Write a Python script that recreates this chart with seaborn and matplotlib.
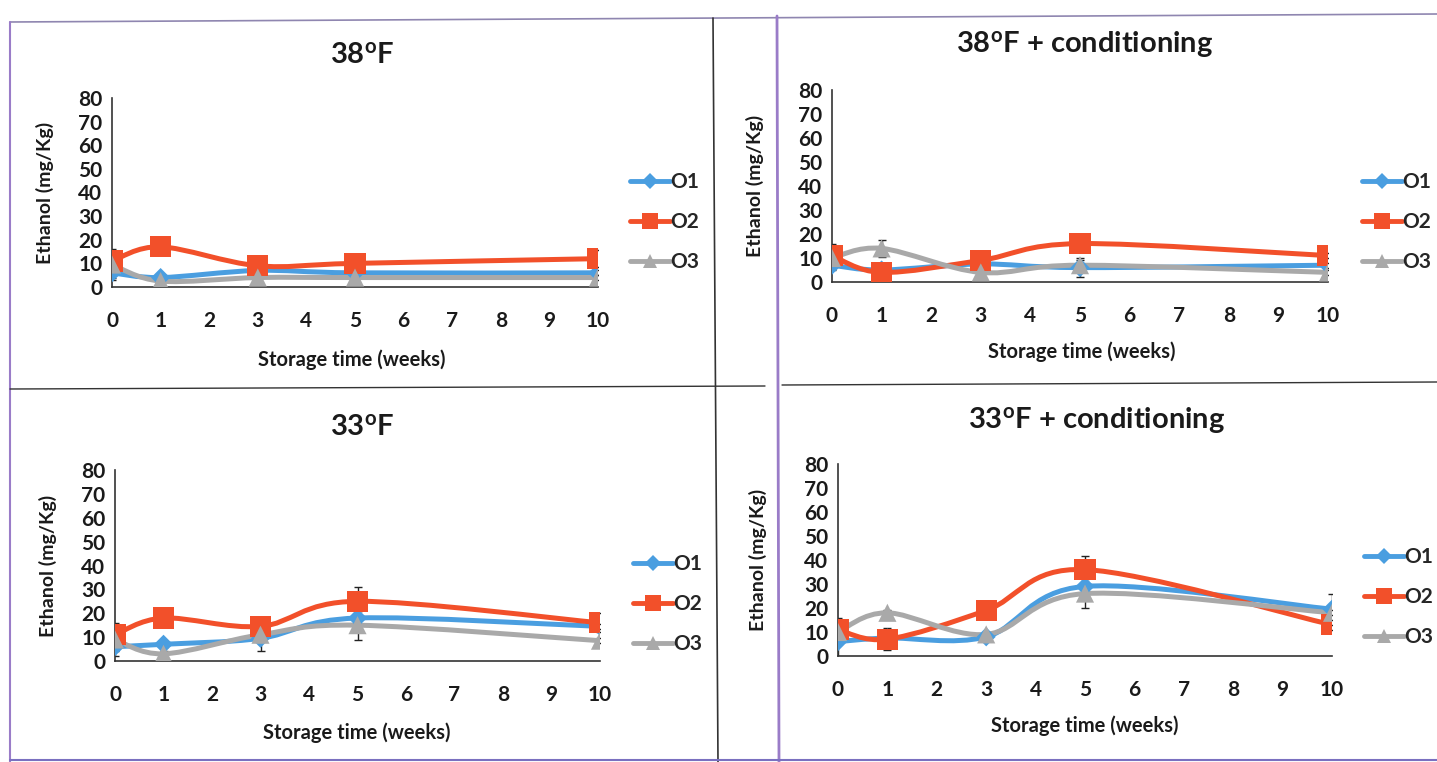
import numpy as np
import pandas as pd
import matplotlib
matplotlib.use("Agg")
import matplotlib.pyplot as plt
import seaborn as sns
from matplotlib.path import Path
from matplotlib.patches import PathPatch
from matplotlib.lines import Line2D

# ---------------- data ----------------
weeks = [0, 1, 3, 5, 10]
x_ticks = [0, 1, 2, 3, 4, 5, 6, 7, 8, 9, 10]
y_ticks = [0, 10, 20, 30, 40, 50, 60, 70, 80]
series_names = ["O1", "O2", "O3"]
panel_titles = ["38$^{\\mathrm{o}}$F", "38$^{\\mathrm{o}}$F + conditioning",
                "33$^{\\mathrm{o}}$F", "33$^{\\mathrm{o}}$F + conditioning"]

# 38F
p1_o1 = [6, 4, 7, 6, 6]
p1_o2 = [11, 17, 9, 10, 12]
p1_o3 = [9.5, 2.5, 4, 4, 4]
p1_o1_err = [2, 1, 1, 1, 1]
p1_o2_err = [3, 3, 1, 1, 3.5]
p1_o3_err = [6.5, 1, 1, 1, 1]

# 38F + conditioning
p2_o1 = [7, 5, 7.5, 6, 7]
p2_o2 = [11, 4, 9, 16, 11]
p2_o3 = [10, 14, 4, 7, 4]
p2_o1_err = [2, 1, 1, 4, 1]
p2_o2_err = [5, 1, 1, 3, 1]
p2_o3_err = [2, 3.5, 1, 2, 1]

# 33F
p3_o1 = [6, 7, 9.5, 18, 14.5]
p3_o2 = [11, 18, 14.5, 25, 16]
p3_o3 = [9, 3, 11, 15, 8.5]
p3_o1_err = [2, 1, 5.5, 3, 1]
p3_o2_err = [2, 1, 2.5, 6, 4]
p3_o3_err = [7, 1, 1, 6, 1]

# 33F + conditioning
p4_o1 = [6, 7.5, 8, 29, 19.5]
p4_o2 = [11, 7, 19, 36, 13]
p4_o3 = [10, 18, 9, 26, 18]
p4_o1_err = [10, 1, 1, 2, 6.5]
p4_o2_err = [2, 4.5, 1, 5.5, 2]
p4_o3_err = [2, 1, 1, 6, 1]

panels = [
    ([p1_o1, p1_o2, p1_o3], [p1_o1_err, p1_o2_err, p1_o3_err]),
    ([p2_o1, p2_o2, p2_o3], [p2_o1_err, p2_o2_err, p2_o3_err]),
    ([p3_o1, p3_o2, p3_o3], [p3_o1_err, p3_o2_err, p3_o3_err]),
    ([p4_o1, p4_o2, p4_o3], [p4_o1_err, p4_o2_err, p4_o3_err]),
]

# ---------------- style ----------------
colors = {"O1": "#4a9ee0", "O2": "#f2502a", "O3": "#a9a9a9"}
markers = {"O1": "D", "O2": "s", "O3": "^"}
msizes = {"O1": 95, "O2": 230, "O3": 170}
leg_ms = {"O1": 8, "O2": 12, "O3": 10}

sns.set_theme(style="white")
plt.rcParams["font.family"] = ["Lato", "DejaVu Sans"]
plt.rcParams["font.weight"] = "bold"
plt.rcParams["mathtext.fontset"] = "custom"
plt.rcParams["mathtext.rm"] = "Lato:bold"
plt.rcParams["mathtext.bf"] = "Lato:bold"
plt.rcParams["mathtext.it"] = "Lato:bold"

W, H = 1437, 762
fig = plt.figure(figsize=(W / 100, H / 100), dpi=100)
fig.patch.set_facecolor("white")

# axes rectangles in pixels: (left, right, y0 pixel, y80 pixel)
ax_px = [(112, 598, 287, 98), (832, 1328, 282, 90),
         (115, 600, 661, 470), (838, 1332, 656, 464)]
ylabel_px = [45, 755, 48, 758]
xlabel_py = [360, 352, 733, 726]
xlabel_px = [352, 1082, 357, 1085]
title_px = [(362, 55), (1085, 45), (362, 428), (1097, 420)]
legend_px = [(630, 222), (1362, 222), (633, 604), (1364, 597)]


def smooth_path(x, y):
    x = np.asarray(x, float)
    y = np.asarray(y, float)
    n = len(x)
    verts = [(x[0], y[0])]
    codes = [Path.MOVETO]
    for i in range(n - 1):
        a = i - 1 if i > 0 else i
        b = i + 2 if i + 2 < n else i + 1
        c1 = (x[i] + (x[i + 1] - x[a]) / 6, y[i] + (y[i + 1] - y[a]) / 6)
        c2 = (x[i + 1] - (x[b] - x[i]) / 6, y[i + 1] - (y[b] - y[i]) / 6)
        verts += [c1, c2, (x[i + 1], y[i + 1])]
        codes += [Path.CURVE4] * 3
    return Path(verts, codes)


for k, ((vals, errs), (l, r, y0, y80)) in enumerate(zip(panels, ax_px)):
    ax = fig.add_axes([l / W, 1 - y0 / H, (r - l) / W, (y0 - y80) / H])
    ax.set_facecolor("none")
    rows = []
    for name, v in zip(series_names, vals):
        for w, val in zip(weeks, v):
            rows.append({"week": w, "value": val, "series": name})
    df = pd.DataFrame(rows)

    for name, v, e in zip(series_names, vals, errs):
        ax.errorbar(weeks, v, yerr=e, fmt="none", ecolor="#222222",
                    elinewidth=1.0, capsize=3, capthick=1.0, zorder=2)
        patch = PathPatch(smooth_path(weeks, v), facecolor="none",
                          edgecolor=colors[name], lw=3.6, zorder=3,
                          capstyle="round", joinstyle="round")
        ax.add_patch(patch)

    sns.scatterplot(data=df, x="week", y="value", hue="series", style="series",
                    size="series", sizes=msizes, palette=colors, markers=markers,
                    linewidth=0, legend=False, ax=ax, zorder=4)

    ax.set_xlim(0, 10)
    ax.set_ylim(0, 80)
    ax.set_xticks(x_ticks)
    ax.set_yticks(y_ticks)
    ax.set_xticklabels([str(t) for t in x_ticks], fontsize=15, fontweight="bold")
    ax.set_yticklabels([str(t) for t in y_ticks], fontsize=15, fontweight="bold")
    ax.tick_params(axis="x", direction="in", length=5, width=1, pad=17,
                   colors="#222222", labelcolor="#1a1a1a")
    ax.tick_params(axis="y", length=0, pad=7, labelcolor="#1a1a1a")
    for s in ["top", "right"]:
        ax.spines[s].set_visible(False)
    for s in ["left", "bottom"]:
        ax.spines[s].set_color("#333333")
        ax.spines[s].set_linewidth(1.2)

    wpx = r - l
    hpx = y0 - y80
    ax.set_ylabel("Ethanol (mg/Kg)", fontsize=14, fontweight="bold", color="#1a1a1a")
    ax.yaxis.set_label_coords(-(l - ylabel_px[k]) / wpx, 0.5)
    ax.set_xlabel("Storage time (weeks)", fontsize=14.5, fontweight="bold", color="#1a1a1a")
    ax.xaxis.set_label_coords((xlabel_px[k] - l) / wpx, -(xlabel_py[k] - y0) / hpx)
    ax.xaxis.label.set_va("center")
    ax.yaxis.label.set_va("center")

    tx, ty = title_px[k]
    ax.text((tx - l) / wpx, 1 + (y80 - ty) / hpx, panel_titles[k],
            transform=ax.transAxes, ha="center", va="center",
            fontsize=21, fontweight="bold", color="#1a1a1a")

    handles = [Line2D([0], [0], color=colors[n], lw=3.5, marker=markers[n],
                      markersize=leg_ms[n], markeredgewidth=0) for n in series_names]
    lx, ly = legend_px[k]
    ax.legend(handles, series_names, loc="center left",
              bbox_to_anchor=((lx - l) / wpx, (y0 - ly) / hpx),
              frameon=False, handlelength=1.9, handletextpad=0.05,
              labelspacing=0.95, borderpad=0, borderaxespad=0,
              prop={"size": 15, "weight": "bold"})

# ---------------- panel frames (scanned page borders) ----------------
def fline(x0, y0_, x1, y1, color, lw=1.2):
    fig.add_artist(Line2D([x0 / W, x1 / W], [1 - y0_ / H, 1 - y1 / H],
                          color=color, lw=lw, transform=fig.transFigure))

purple = "#9a7cc8"
fline(10, 22, 1437, 14, "#8f86b0")
fline(10, 22, 10, 762, purple, 1.5)
fline(713, 18, 718, 762, "#333333", 1.2)
fline(777, 16, 779, 762, purple, 2.0)
fline(10, 389, 765, 386, "#333333", 1.0)
fline(782, 385, 1437, 382, "#333333", 1.0)
fline(10, 760, 1437, 760, "#7a70c0", 1.5)

fig.savefig("out.png", dpi=100, facecolor="white")
